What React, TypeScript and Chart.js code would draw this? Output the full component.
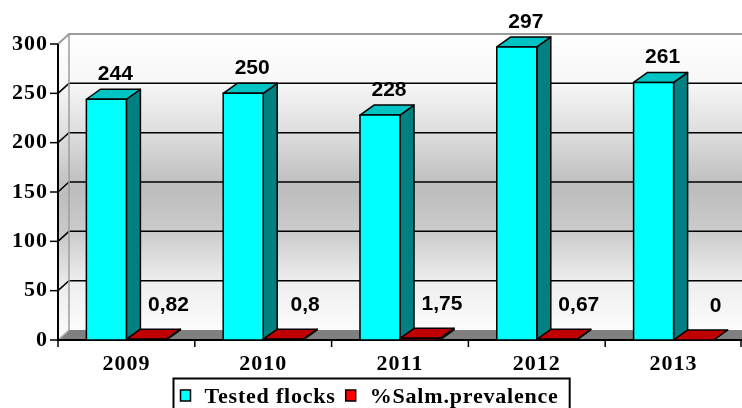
import React, { useEffect, useRef } from 'react';
import { Chart, registerables } from 'chart.js';

Chart.register(...registerables);

// ---- data ----
const years = ['2009', '2010', '2011', '2012', '2013'];
const testedFlocks = [244, 250, 228, 297, 261];
const salmPrevalence = [0.82, 0.8, 1.75, 0.67, 0];
const seriesNames = ['Tested flocks', '%Salm.prevalence'];
const yMin = 0;
const yMax = 300;
const yStep = 50;

// ---- style ----
const W = 742;
const H = 408;
const SERIF = '"Liberation Serif", "Times New Roman", serif';
const SANS = '"Liberation Sans", Arial, sans-serif';
const palette = [
  { front: '#00ffff', top: '#00c4c4', side: '#008080' },
  { front: '#ff0000', top: '#c00000', side: '#800000' },
];
const WALL_DX = 11;
const WALL_DY = 10;
const BAR_DX = 14;
const BAR_DY = 10;

const fmt = (v: number) => String(v).replace('.', ',');

function wallGradient(ctx: CanvasRenderingContext2D, y0: number, y1: number) {
  const g = ctx.createLinearGradient(0, y0, 0, y1);
  g.addColorStop(0, '#ffffff');
  g.addColorStop(0.16, '#f7f7f7');
  g.addColorStop(0.33, '#dedede');
  g.addColorStop(0.52, '#bdbdbd');
  g.addColorStop(0.67, '#cbcbcb');
  g.addColorStop(0.83, '#ededed');
  g.addColorStop(1, '#fcfcfc');
  return g;
}

function poly(ctx: CanvasRenderingContext2D, pts: number[][], fill: string) {
  ctx.beginPath();
  ctx.moveTo(pts[0][0], pts[0][1]);
  for (let i = 1; i < pts.length; i++) ctx.lineTo(pts[i][0], pts[i][1]);
  ctx.closePath();
  ctx.fillStyle = fill;
  ctx.fill();
  ctx.stroke();
}

const excel3d = {
  id: 'excel3d',
  beforeDraw(chart: any) {
    chart.ctx.letterSpacing = '1px';
  },
  beforeDatasetsDraw(chart: any) {
    const ctx: CanvasRenderingContext2D = chart.ctx;
    ctx.save();
    ctx.letterSpacing = '0px';
    const a = chart.chartArea;
    const ys = chart.scales.y;
    const xs = chart.scales.x;
    const L = a.left;
    const R = a.right;
    const T = ys.getPixelForValue(yMax);
    const B = ys.getPixelForValue(yMin);

    // back wall
    ctx.fillStyle = wallGradient(ctx, T - WALL_DY, B - WALL_DY);
    ctx.fillRect(L + WALL_DX, T - WALL_DY, R - L, B - T);
    // left wall
    ctx.beginPath();
    ctx.moveTo(L, T);
    ctx.lineTo(L + WALL_DX, T - WALL_DY);
    ctx.lineTo(L + WALL_DX, B - WALL_DY);
    ctx.lineTo(L, B);
    ctx.closePath();
    ctx.fillStyle = wallGradient(ctx, T - WALL_DY, B);
    ctx.fill();
    // floor
    ctx.beginPath();
    ctx.moveTo(L, B);
    ctx.lineTo(L + WALL_DX, B - WALL_DY);
    ctx.lineTo(R + WALL_DX, B - WALL_DY);
    ctx.lineTo(R, B);
    ctx.closePath();
    ctx.fillStyle = '#808080';
    ctx.fill();

    // gridlines
    for (const t of ys.ticks) {
      if (t.value === yMin) continue;
      const py = ys.getPixelForValue(t.value);
      const isTop = t.value === yMax;
      ctx.strokeStyle = isTop ? '#9c9c9c' : '#000000';
      ctx.lineWidth = isTop ? 2 : 1.5;
      ctx.beginPath();
      ctx.moveTo(L, py);
      ctx.lineTo(L + WALL_DX, py - WALL_DY);
      ctx.lineTo(R + 2, py - WALL_DY);
      ctx.stroke();
    }
    // wall edges
    ctx.strokeStyle = '#9c9c9c';
    ctx.lineWidth = 1.5;
    ctx.beginPath();
    ctx.moveTo(L + WALL_DX, T - WALL_DY);
    ctx.lineTo(L + WALL_DX, B - WALL_DY);
    ctx.stroke();
    ctx.strokeStyle = '#b4b4b4';
    ctx.beginPath();
    ctx.moveTo(L, B);
    ctx.lineTo(L + WALL_DX, B - WALL_DY);
    ctx.stroke();

    // axes
    ctx.strokeStyle = '#000000';
    ctx.lineWidth = 2;
    ctx.beginPath();
    ctx.moveTo(L, T);
    ctx.lineTo(L, B);
    ctx.lineTo(R + 2, B);
    ctx.stroke();
    ctx.lineWidth = 1.5;
    for (const t of ys.ticks) {
      const py = ys.getPixelForValue(t.value);
      ctx.beginPath();
      ctx.moveTo(L - 8, py);
      ctx.lineTo(L, py);
      ctx.stroke();
    }
    const n = years.length;
    for (let i = 0; i <= n; i++) {
      let bx: number;
      if (i === 0) bx = L;
      else if (i === n) bx = R - 1;
      else bx = (xs.getPixelForValue(i - 1) + xs.getPixelForValue(i)) / 2;
      ctx.beginPath();
      ctx.moveTo(bx, B);
      ctx.lineTo(bx, B + 7);
      ctx.stroke();
    }
    ctx.restore();
  },
  afterDatasetsDraw(chart: any) {
    const ctx: CanvasRenderingContext2D = chart.ctx;
    ctx.save();
    ctx.letterSpacing = '0px';
    ctx.strokeStyle = '#000000';
    ctx.lineWidth = 1.5;
    ctx.lineJoin = 'round';
    const metas = chart.data.datasets.map((_: any, i: number) => chart.getDatasetMeta(i));
    for (let c = 0; c < years.length; c++) {
      metas.forEach((meta: any, d: number) => {
        const el = meta.data[c];
        const { x, y, base, width } = el.getProps(['x', 'y', 'base', 'width'], true);
        const x0 = x - width / 2;
        const x1 = x + width / 2;
        const col = palette[d];
        poly(ctx, [[x1, y], [x1 + BAR_DX, y - BAR_DY], [x1 + BAR_DX, base - BAR_DY], [x1, base]], col.side);
        poly(ctx, [[x0, y], [x0 + BAR_DX, y - BAR_DY], [x1 + BAR_DX, y - BAR_DY], [x1, y]], col.top);
        if (base - y > 0.5) poly(ctx, [[x0, y], [x1, y], [x1, base], [x0, base]], col.front);
      });
    }
    // value labels
    ctx.fillStyle = '#000000';
    ctx.font = `bold 21px ${SANS}`;
    ctx.textAlign = 'center';
    ctx.textBaseline = 'alphabetic';
    metas.forEach((meta: any, d: number) => {
      const vals = chart.data.datasets[d].data;
      meta.data.forEach((el: any, i: number) => {
        const { x, y } = el.getProps(['x', 'y'], true);
        if (d === 0) ctx.fillText(fmt(vals[i]), x + 9, y - 19);
        else ctx.fillText(fmt(vals[i]), x + 22, y - 28);
      });
    });
    ctx.restore();
  },
  afterDraw(chart: any) {
    const ctx: CanvasRenderingContext2D = chart.ctx;
    ctx.save();
    ctx.font = `bold 22px ${SERIF}`;
    ctx.letterSpacing = '0.8px';
    const sq = 10;
    const gap = 14;
    const itemGap = 10;
    const padL = 7;
    const padR = 11;
    const widths = seriesNames.map((s) => ctx.measureText(s).width);
    const total = padL + (sq + gap) * 2 + widths[0] + itemGap + widths[1] + padR;
    const bx = Math.round(W / 2 - total / 2) + 0.5;
    const by = 378.5;
    ctx.fillStyle = '#ffffff';
    ctx.fillRect(bx, by, total, 40);
    ctx.strokeStyle = '#000000';
    ctx.lineWidth = 2;
    ctx.strokeRect(bx, by, total, 40);
    let cx = bx + padL;
    ctx.textAlign = 'left';
    ctx.textBaseline = 'alphabetic';
    seriesNames.forEach((name, i) => {
      ctx.fillStyle = palette[i].front;
      ctx.fillRect(cx, 390, sq, 11);
      ctx.lineWidth = 1.5;
      ctx.strokeRect(cx, 390, sq, 11);
      cx += sq + gap;
      ctx.fillStyle = '#000000';
      ctx.fillText(name, cx, 403);
      cx += widths[i] + itemGap;
    });
    ctx.restore();
  },
};

export default function App() {
  const ref = useRef<HTMLCanvasElement>(null);
  useEffect(() => {
    document.body.style.margin = '0';
    const chart = new Chart(ref.current as HTMLCanvasElement, {
      type: 'bar',
      data: {
        labels: years,
        datasets: [
          { label: seriesNames[0], data: testedFlocks, backgroundColor: 'rgba(0,0,0,0)', borderWidth: 0, categoryPercentage: 0.585, barPercentage: 1 },
          { label: seriesNames[1], data: salmPrevalence, backgroundColor: 'rgba(0,0,0,0)', borderWidth: 0, categoryPercentage: 0.585, barPercentage: 1 },
        ],
      },
      options: {
        animation: false,
        responsive: false,
        events: [],
        layout: { padding: { top: 44, left: 0, right: 0, bottom: 0 } },
        plugins: { legend: { display: false }, tooltip: { enabled: false } },
        scales: {
          x: {
            grid: { display: false },
            border: { display: false },
            ticks: { color: '#000', font: { family: SERIF, size: 22, weight: 'bold' }, padding: 3, maxRotation: 0 },
            afterFit: (s: any) => { s.height = 68; },
          },
          y: {
            min: yMin,
            max: yMax,
            grid: { display: false },
            border: { display: false },
            ticks: { stepSize: yStep, color: '#000', font: { family: SERIF, size: 22, weight: 'bold' }, padding: 2 },
            afterFit: (s: any) => { s.width = 58; },
          },
        },
      },
      plugins: [excel3d],
    } as any);
    return () => chart.destroy();
  }, []);
  return (
    <div style={{ width: W, height: H }}>
      <canvas ref={ref} width={W} height={H} style={{ display: 'block' }} />
    </div>
  );
}
